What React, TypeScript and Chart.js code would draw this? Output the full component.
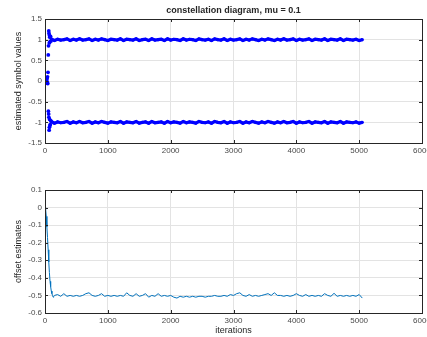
import React, { useEffect, useRef } from "react";
import { Chart, registerables } from "chart.js";

Chart.register(...registerables);

// ---- text ----
const TITLE = "constellation diagram, mu = 0.1";
const SYMBOL_AXIS_LABEL = "estimated symbol values";
const OFFSET_AXIS_LABEL = "offset estimates";
const X_AXIS_LABEL = "iterations";

// ---- ticks ----
const xTicks = [0, 1000, 2000, 3000, 4000, 5000, 6000];
const symbolTicks = [-1.5, -1, -0.5, 0, 0.5, 1, 1.5];
const offsetTicks = [-0.6, -0.5, -0.4, -0.3, -0.2, -0.1, 0, 0.1];

// ---- symbol estimates during start-up (iteration, value) ----
const startupIters = [
  0, 4, 8, 12, 16, 20, 24, 28, 32, 36, 40, 44, 48, 52, 54, 56, 58, 60, 62, 64,
  66, 68, 70, 72, 74, 76, 78, 80, 84, 88, 92, 96,
];
const startupSymbols = [
  0.0, -0.01, 0.02, -0.02, 0.01, -0.04, 0.03, -0.05, 0.06, -0.02, 0.1, -0.06,
  0.21, 0.63, -0.73, 0.85, -0.8, 1.21, -0.88, 1.15, -1.19, 0.92, -1.12, 1.1,
  -0.93, 1.06, -1.08, 0.95, -1.05, 1.08, -0.96, 0.97,
];

// ---- converged symbol estimates, one every BAND_STEP iterations ----
const BAND_START = 100;
const BAND_STEP = 50;
const upperBand = [
  1.02, 0.98, 1.01, 0.99, 1.0, 1.02, 0.98, 1.01, 0.99, 1.02,
  0.99, 1.0, 1.02, 0.98, 1.01, 0.99, 1.02, 1.0, 0.98, 1.01,
  1.0, 0.99, 1.02, 0.98, 1.01, 1.0, 0.99, 1.02, 0.98, 1.0,
  1.01, 0.98, 1.02, 0.99, 1.0, 1.01, 0.98, 1.02, 0.99, 1.01,
  1.0, 0.98, 1.02, 0.99, 1.01, 1.0, 0.98, 1.02, 1.0, 0.99,
  1.01, 0.98, 1.02, 1.0, 0.99, 1.02, 0.98, 1.01, 0.99, 1.0,
  1.02, 0.98, 1.01, 0.99, 1.02, 1.0, 0.98, 1.01, 0.99, 1.02,
  1.0, 0.98, 1.01, 0.99, 1.02, 0.99, 1.0, 1.02, 0.98, 1.01,
  0.99, 1.0, 1.02, 0.98, 1.01, 1.0, 0.99, 1.02, 0.98, 1.01,
  1.0, 0.99, 1.02, 0.98, 1.01, 1.0, 0.99, 1.01, 0.98, 1.0,
];
const lowerBand = [
  -0.98, -1.02, -0.99, -1.01, -1.0, -0.98, -1.02, -0.99, -1.01, -0.98,
  -1.01, -1.0, -0.98, -1.02, -0.99, -1.01, -0.98, -1.0, -1.02, -0.99,
  -1.0, -1.01, -0.98, -1.02, -0.99, -1.0, -1.01, -0.98, -1.02, -1.0,
  -0.99, -1.02, -0.98, -1.01, -1.0, -0.99, -1.02, -0.98, -1.01, -0.99,
  -1.0, -1.02, -0.98, -1.01, -0.99, -1.0, -1.02, -0.98, -1.0, -1.01,
  -0.99, -1.02, -0.98, -1.0, -1.01, -0.98, -1.02, -0.99, -1.01, -1.0,
  -0.98, -1.02, -0.99, -1.01, -0.98, -1.0, -1.02, -0.99, -1.01, -0.98,
  -1.0, -1.02, -0.99, -1.01, -0.98, -1.01, -1.0, -0.98, -1.02, -0.99,
  -1.01, -1.0, -0.98, -1.02, -0.99, -1.0, -1.01, -0.98, -1.02, -0.99,
  -1.0, -1.01, -0.98, -1.02, -0.99, -1.0, -1.01, -0.99, -1.02, -1.0,
];

// ---- offset estimate: fast start-up transient, then steady state ----
const offsetEarlyIters = [0, 10, 20, 30, 40, 50, 60, 70, 80, 90, 100, 110, 120, 130, 140, 150];
const offsetEarlyValues = [
  0.0, -0.01, -0.05, -0.11, -0.17, -0.24, -0.31, -0.37, -0.42, -0.45, -0.475,
  -0.49, -0.5, -0.51, -0.505, -0.5,
];
const OFFSET_STEADY_START = 200;
const OFFSET_STEADY_STEP = 50;
const offsetSteadyValues = [
  -0.495, -0.505, -0.49, -0.505, -0.5, -0.505, -0.5, -0.505, -0.5, -0.49,
  -0.485, -0.5, -0.505, -0.5, -0.49, -0.505, -0.5, -0.505, -0.5, -0.505,
  -0.5, -0.505, -0.485, -0.5, -0.505, -0.49, -0.505, -0.5, -0.49, -0.51,
  -0.5, -0.505, -0.49, -0.505, -0.5, -0.505, -0.5, -0.51, -0.515, -0.505,
  -0.51, -0.505, -0.51, -0.505, -0.51, -0.505, -0.505, -0.51, -0.505, -0.505,
  -0.5, -0.505, -0.505, -0.5, -0.505, -0.495, -0.5, -0.49, -0.485, -0.5,
  -0.505, -0.495, -0.505, -0.5, -0.505, -0.5, -0.495, -0.49, -0.5, -0.485,
  -0.5, -0.5, -0.505, -0.5, -0.505, -0.5, -0.49, -0.5, -0.505, -0.495,
  -0.505, -0.5, -0.505, -0.5, -0.505, -0.49, -0.5, -0.505, -0.488, -0.505,
  -0.5, -0.505, -0.5, -0.505, -0.5, -0.505, -0.495, -0.515,
];

// ---- styling ----
const W = 427;
const TOP_H = 165;
const BOTTOM_H = 172;
const PLOT_LEFT = 45;
const PLOT_RIGHT_PAD = 5;
const FONT = "'Liberation Sans', Arial, Helvetica, sans-serif";
const TICK_FONT_SIZE = 8;
const LABEL_FONT_SIZE = 9;
const AXIS_COLOR = "#262626";
const TICK_TEXT = "#4a4a4a";
const GRID_COLOR = "#e3e3e3";
const SYMBOL_COLOR = "#0000ff";
const OFFSET_COLOR = "#0072bd";

type Texts = { title?: string; yLabel: string; xLabel?: string };

// Draws the framed box with inward tick marks plus titles/labels.
function framePlugin(texts: Texts) {
  return {
    id: "frame",
    afterDraw(chart: any) {
      const { ctx, chartArea: a, scales } = chart;
      const len = 3;
      ctx.save();
      ctx.strokeStyle = AXIS_COLOR;
      ctx.lineWidth = 1;
      ctx.beginPath();
      for (const t of scales.x.ticks) {
        const px = Math.round(scales.x.getPixelForValue(t.value)) + 0.5;
        ctx.moveTo(px, a.bottom);
        ctx.lineTo(px, a.bottom - len);
        ctx.moveTo(px, a.top);
        ctx.lineTo(px, a.top + len);
      }
      for (const t of scales.y.ticks) {
        const py = Math.round(scales.y.getPixelForValue(t.value)) + 0.5;
        ctx.moveTo(a.left, py);
        ctx.lineTo(a.left + len, py);
        ctx.moveTo(a.right, py);
        ctx.lineTo(a.right - len, py);
      }
      ctx.stroke();
      ctx.strokeRect(
        Math.round(a.left) + 0.5,
        Math.round(a.top) + 0.5,
        Math.round(a.right - a.left),
        Math.round(a.bottom - a.top)
      );

      ctx.fillStyle = AXIS_COLOR;
      ctx.textAlign = "center";
      ctx.textBaseline = "middle";
      const cx = (a.left + a.right) / 2;
      if (texts.title) {
        ctx.font = `bold ${LABEL_FONT_SIZE}px ${FONT}`;
        ctx.fillText(texts.title, cx, a.top - 8);
      }
      ctx.font = `${LABEL_FONT_SIZE}px ${FONT}`;
      if (texts.xLabel) {
        ctx.fillText(texts.xLabel, cx, a.bottom + 18);
      }
      ctx.translate(19, (a.top + a.bottom) / 2);
      ctx.rotate(-Math.PI / 2);
      ctx.fillText(texts.yLabel, 0, 0);
      ctx.restore();
    },
  };
}

function fixedTicks(values: number[]) {
  return (axis: any) => {
    axis.ticks = values.map((v) => ({ value: v }));
  };
}

function scalesFor(yTicks: number[], xAxisHeight: number) {
  const tickFont = { family: FONT, size: TICK_FONT_SIZE };
  return {
    x: {
      type: "linear",
      min: xTicks[0],
      max: xTicks[xTicks.length - 1],
      afterBuildTicks: fixedTicks(xTicks),
      afterFit: (s: any) => {
        s.height = xAxisHeight;
        s.paddingLeft = 0;
        s.paddingRight = 0;
      },
      grid: { color: GRID_COLOR, drawTicks: false },
      border: { display: false },
      ticks: {
        font: tickFont,
        color: TICK_TEXT,
        padding: 3,
        maxRotation: 0,
        autoSkip: false,
        callback: (v: number) => String(v),
      },
    },
    y: {
      type: "linear",
      min: yTicks[0],
      max: yTicks[yTicks.length - 1],
      afterBuildTicks: fixedTicks(yTicks),
      afterFit: (s: any) => {
        s.width = PLOT_LEFT;
        s.paddingTop = 0;
        s.paddingBottom = 0;
      },
      grid: { color: GRID_COLOR, drawTicks: false },
      border: { display: false },
      ticks: {
        font: tickFont,
        color: TICK_TEXT,
        padding: 3,
        autoSkip: false,
        callback: (v: number) => String(v),
      },
    },
  };
}

function bandPoints(values: number[]) {
  return values.map((y, i) => ({ x: BAND_START + i * BAND_STEP, y }));
}

export default function App() {
  const topRef = useRef<HTMLCanvasElement>(null);
  const bottomRef = useRef<HTMLCanvasElement>(null);

  useEffect(() => {
    const pointStyle = {
      showLine: false,
      pointRadius: 1.9,
      pointBorderWidth: 0,
      pointBackgroundColor: SYMBOL_COLOR,
      borderColor: SYMBOL_COLOR,
      backgroundColor: SYMBOL_COLOR,
    };
    // dense clouds of dots blend into a solid band
    const bandStyle = {
      ...pointStyle,
      showLine: true,
      borderWidth: 3.2,
      pointRadius: 1.6,
    };
    const top = new Chart(topRef.current as HTMLCanvasElement, {
      type: "scatter",
      data: {
        datasets: [
          {
            ...pointStyle,
            data: startupIters.map((x, i) => ({ x, y: startupSymbols[i] })),
          },
          { ...bandStyle, data: bandPoints(upperBand) },
          { ...bandStyle, data: bandPoints(lowerBand) },
        ],
      } as any,
      options: {
        responsive: false,
        animation: false,
        events: [],
        layout: { padding: { top: 19, right: PLOT_RIGHT_PAD, left: 0, bottom: 0 } },
        plugins: { legend: { display: false }, tooltip: { enabled: false } },
        scales: scalesFor(symbolTicks, TOP_H - 143),
      } as any,
      plugins: [framePlugin({ title: TITLE, yLabel: SYMBOL_AXIS_LABEL })],
    });

    const offsetPoints = [
      ...offsetEarlyIters.map((x, i) => ({ x, y: offsetEarlyValues[i] })),
      ...offsetSteadyValues.map((y, i) => ({
        x: OFFSET_STEADY_START + i * OFFSET_STEADY_STEP,
        y,
      })),
    ];
    const bottom = new Chart(bottomRef.current as HTMLCanvasElement, {
      type: "line",
      data: {
        datasets: [
          {
            data: offsetPoints,
            borderColor: OFFSET_COLOR,
            borderWidth: 1,
            pointRadius: 0,
            tension: 0,
            fill: false,
          },
        ],
      } as any,
      options: {
        responsive: false,
        animation: false,
        events: [],
        layout: { padding: { top: 25, right: PLOT_RIGHT_PAD, left: 0, bottom: 0 } },
        plugins: { legend: { display: false }, tooltip: { enabled: false } },
        scales: scalesFor(offsetTicks, BOTTOM_H - 148),
      } as any,
      plugins: [framePlugin({ yLabel: OFFSET_AXIS_LABEL, xLabel: X_AXIS_LABEL })],
    });

    return () => {
      top.destroy();
      bottom.destroy();
    };
  }, []);

  return (
    <div
      style={{
        position: "absolute",
        left: 0,
        top: 0,
        width: W,
        height: TOP_H + BOTTOM_H,
        background: "#ffffff",
      }}
    >
      <canvas
        ref={topRef}
        width={W}
        height={TOP_H}
        style={{ position: "absolute", left: 0, top: 0, width: W, height: TOP_H }}
      />
      <canvas
        ref={bottomRef}
        width={W}
        height={BOTTOM_H}
        style={{ position: "absolute", left: 0, top: TOP_H, width: W, height: BOTTOM_H }}
      />
    </div>
  );
}
